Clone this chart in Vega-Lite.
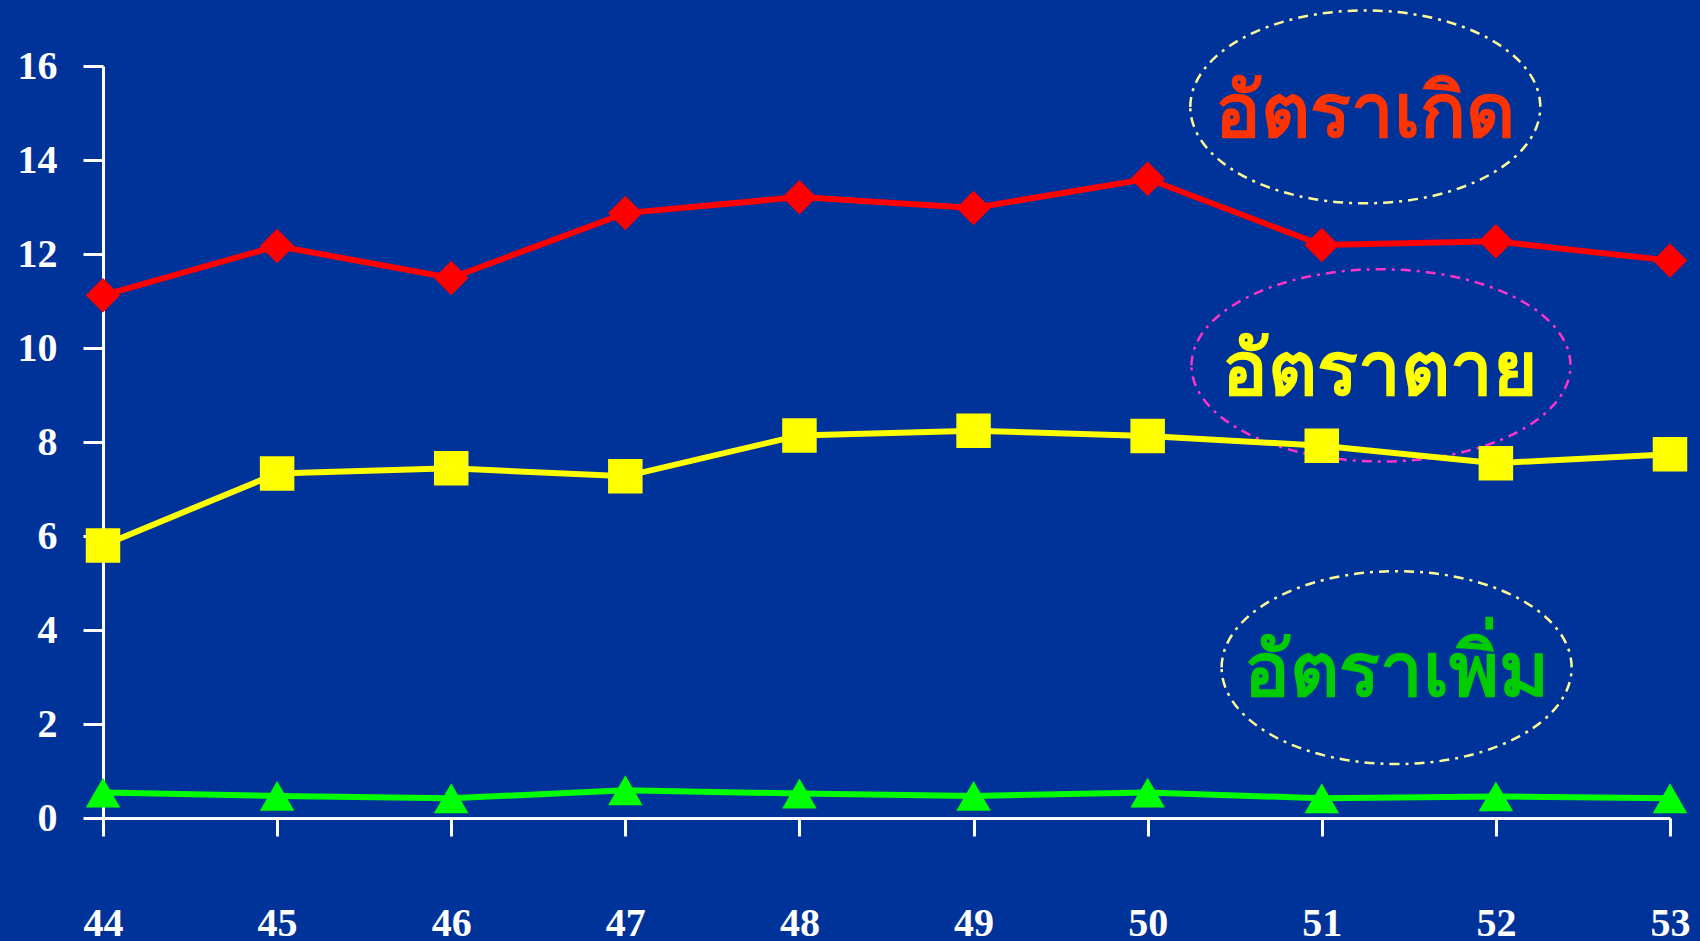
{
  "$schema": "https://vega.github.io/schema/vega-lite/v6.json",
  "width": 1567,
  "height": 752,
  "autosize": {"type": "none"},
  "padding": {"left": 103, "top": 66, "right": 30, "bottom": 123},
  "background": "#003399",
  "config": {
    "view": {"stroke": null},
    "axis": {"grid": false, "title": null, "domainColor": "white", "domainWidth": 3, "tickColor": "white", "tickWidth": 3, "labelColor": "white", "labelFont": "Liberation Serif", "labelFontWeight": "bold", "labelFontSize": 40}
  },
  "datasets": {
    "rates": [
      {"year": 44, "series": "birth", "value": 11.12},
      {"year": 45, "series": "birth", "value": 12.17},
      {"year": 46, "series": "birth", "value": 11.49},
      {"year": 47, "series": "birth", "value": 12.87},
      {"year": 48, "series": "birth", "value": 13.21},
      {"year": 49, "series": "birth", "value": 12.98},
      {"year": 50, "series": "birth", "value": 13.60},
      {"year": 51, "series": "birth", "value": 12.19},
      {"year": 52, "series": "birth", "value": 12.27},
      {"year": 53, "series": "birth", "value": 11.86},
      {"year": 44, "series": "death", "value": 5.80},
      {"year": 45, "series": "death", "value": 7.33},
      {"year": 46, "series": "death", "value": 7.44},
      {"year": 47, "series": "death", "value": 7.27},
      {"year": 48, "series": "death", "value": 8.14},
      {"year": 49, "series": "death", "value": 8.24},
      {"year": 50, "series": "death", "value": 8.13},
      {"year": 51, "series": "death", "value": 7.92},
      {"year": 52, "series": "death", "value": 7.55},
      {"year": 53, "series": "death", "value": 7.74},
      {"year": 44, "series": "growth", "value": 0.54},
      {"year": 45, "series": "growth", "value": 0.47},
      {"year": 46, "series": "growth", "value": 0.42},
      {"year": 47, "series": "growth", "value": 0.59},
      {"year": 48, "series": "growth", "value": 0.52},
      {"year": 49, "series": "growth", "value": 0.47},
      {"year": 50, "series": "growth", "value": 0.54},
      {"year": 51, "series": "growth", "value": 0.42},
      {"year": 52, "series": "growth", "value": 0.46},
      {"year": 53, "series": "growth", "value": 0.42}
    ],
    "ellipses": [
      {"series": "birth", "year": 51.25, "value": 15.13},
      {"series": "death", "year": 51.34, "value": 9.63},
      {"series": "growth", "year": 51.43, "value": 3.2}
    ],
    "labels": [
      {"series": "birth", "label": "อัตราเกิด", "year": 51.25, "value": 14.49},
      {"series": "death", "label": "อัตราตาย", "year": 51.335, "value": 8.99},
      {"series": "growth", "label": "อัตราเพิ่ม", "year": 51.43, "value": 2.59}
    ]
  },
  "encoding": {
    "x": {"field": "year", "type": "quantitative", "scale": {"domain": [44, 53], "nice": false, "zero": false},
          "axis": {"values": [44,45,46,47,48,49,50,51,52,53], "tickSize": 18, "labelPadding": 67, "labelFlush": false}},
    "y": {"field": "value", "type": "quantitative", "scale": {"domain": [0, 16], "nice": false},
          "axis": {"values": [0,2,4,6,8,10,12,14,16], "tickSize": 20, "labelPadding": 26, "labelBaseline": "middle"}}
  },
  "layer": [
    {
      "data": {"name": "ellipses"},
      "transform": [{"filter": "datum.series == 'birth'"}],
      "mark": {"type": "point", "shape": "M -1 0 A 1 0.551 0 1 1 1 0 A 1 0.551 0 1 1 -1 0 Z", "size": 122500, "filled": false, "stroke": "#ffff99", "strokeWidth": 2.5, "strokeDash": [10, 6, 3, 6], "opacity": 1}
    },
    {
      "data": {"name": "ellipses"},
      "transform": [{"filter": "datum.series == 'death'"}],
      "mark": {"type": "point", "shape": "M -1 0 A 1 0.507 0 1 1 1 0 A 1 0.507 0 1 1 -1 0 Z", "size": 143641, "filled": false, "stroke": "#ff33cc", "strokeWidth": 2.5, "strokeDash": [10, 6, 3, 6], "opacity": 1}
    },
    {
      "data": {"name": "ellipses"},
      "transform": [{"filter": "datum.series == 'growth'"}],
      "mark": {"type": "point", "shape": "M -1 0 A 1 0.551 0 1 1 1 0 A 1 0.551 0 1 1 -1 0 Z", "size": 122500, "filled": false, "stroke": "#ffff99", "strokeWidth": 2.5, "strokeDash": [10, 6, 3, 6], "opacity": 1}
    },
    {
      "data": {"name": "labels"},
      "mark": {"type": "text", "font": "Noto Sans", "fontWeight": "bold", "fontSize": 76, "align": "center", "baseline": "alphabetic"},
      "encoding": {
        "text": {"field": "label"},
        "color": {"field": "series", "type": "nominal", "scale": {"domain": ["birth", "death", "growth"], "range": ["#ff3300", "#ffff00", "#00cc00"]}, "legend": null}
      }
    },
    {
      "data": {"name": "rates"},
      "mark": {"type": "line", "strokeWidth": 6},
      "encoding": {
        "color": {"field": "series", "type": "nominal", "scale": {"domain": ["birth", "death", "growth"], "range": ["#ff0000", "#ffff00", "#00ff00"]}, "legend": null}
      }
    },
    {
      "data": {"name": "rates"},
      "mark": {"type": "point", "filled": true, "opacity": 1, "size": 1190},
      "encoding": {
        "color": {"field": "series", "type": "nominal", "scale": {"domain": ["birth", "death", "growth"], "range": ["#ff0000", "#ffff00", "#00ff00"]}, "legend": null},
        "shape": {"field": "series", "type": "nominal", "scale": {"domain": ["birth", "death", "growth"], "range": ["diamond", "square", "triangle-up"]}, "legend": null}
      }
    }
  ],
  "resolve": {"scale": {"color": "independent"}}
}
